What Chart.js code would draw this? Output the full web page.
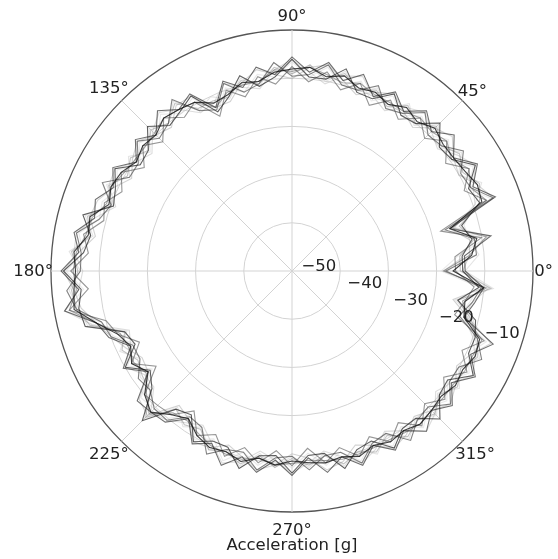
<!DOCTYPE html>
<html>
<head>
<meta charset="utf-8">
<script src="https://cdn.jsdelivr.net/npm/chart.js@4.4.1/dist/chart.umd.min.js"></script>
<style>
  html, body { margin: 0; padding: 0; background: #fff; }
  #wrap { width: 558px; height: 559px; }
</style>
</head>
<body>
<div id="wrap"><canvas id="polarChart" width="558" height="559"></canvas></div>
<script>
// angles run counter-clockwise from 0° in 5° steps (0, 5, ... 355)
const angleStep = 5;
const angleTickLabels = ['0°', '45°', '90°', '135°', '180°', '225°', '270°', '315°'];
const radialTicks = [-50, -40, -30, -20, -10];
const radialTickLabels = ['\u221250', '\u221240', '\u221230', '\u221220', '\u221210'];

// one row = 60° (12 samples)
const runA = [
  -16.5, -16.5, -10.5, -18.5, -7.5, -11, -8, -11.5, -8.5, -11.5, -9, -12,
  -9.5, -12.5, -9, -11.5, -8.5, -11, -8, -11.5, -9.5, -13, -10.5, -15,
  -10, -11.5, -9, -12.5, -10, -13, -9.5, -11.5, -9, -10, -6.5, -8,
  -4.5, -8, -4.5, -10.5, -12, -15.5, -12, -16, -10.5, -11, -11.5, -15,
  -11, -13, -9.5, -12.5, -10, -13, -10, -13.5, -10, -12.5, -9.5, -12.5,
  -9.5, -12, -9, -11.5, -9, -12, -8.5, -11.5, -8, -15.5, -14, -12.5
];
const runB = [
  -18.5, -18.5, -12.5, -20.5, -9.5, -13, -10, -13.5, -10.5, -13.5, -11, -14,
  -11.5, -14.5, -11, -13.5, -10.5, -13, -10, -13.5, -11.5, -15, -12.5, -17,
  -12, -13.5, -11, -14.5, -12, -15, -11.5, -13.5, -11, -12, -8.5, -10,
  -6.5, -10, -5.5, -12.5, -14, -17.5, -14, -18, -12.5, -13, -13.5, -17,
  -13, -15, -11.5, -14.5, -12, -15, -12, -15.5, -12, -14.5, -11.5, -14.5,
  -11.5, -14, -10.5, -13.5, -11, -14, -10.5, -13.5, -10, -17.5, -16, -14.5
];
const runC = [
  -17, -17, -14.5, -16, -11, -12, -8.5, -12, -12.5, -9, -12.5, -13,
  -10, -13, -13, -9, -12, -12, -8.5, -12, -13.5, -10.5, -14, -16,
  -10.5, -12, -13, -10, -13.5, -14, -10, -12, -13, -7.5, -10, -9,
  -5, -8.5, -7.5, -8, -15.5, -16.5, -12.5, -16.5, -14.5, -8.5, -15, -16,
  -11.5, -13.5, -13.5, -10, -13.5, -14, -10.5, -14, -14, -10, -13, -13.5,
  -10, -12.5, -12.5, -9, -12.5, -13, -9, -12, -12, -13, -17.5, -13.5
];
const runD = [
  -20.5, -14, -14, -19.5, -8, -11.5, -12, -9, -12, -12.5, -9.5, -12.5,
  -13.5, -10, -12.5, -12.5, -9, -11.5, -12, -9, -13, -14, -11, -15.5,
  -14, -9, -12.5, -13.5, -10.5, -13.5, -13.5, -9, -12.5, -11, -7, -8.5,
  -8.5, -5.5, -7, -11.5, -12.5, -16, -16, -13.5, -14, -12, -12, -15.5,
  -15, -10.5, -13, -13.5, -10.5, -13.5, -14, -11, -13.5, -13.5, -10, -13,
  -13.5, -9.5, -12, -12.5, -9.5, -12.5, -12.5, -9, -11.5, -16.5, -14.5, -13
];
const runE = [
  -19, -15, -13.5, -18.5, -10.5, -10, -11, -11.5, -11.5, -10.5, -12, -11,
  -12.5, -11.5, -12, -10.5, -11.5, -10, -10.5, -11, -12.5, -12, -13.5, -14,
  -12, -11.5, -11, -12.5, -12, -13, -11.5, -11, -12, -9, -9.5, -7,
  -7.5, -7, -6.5, -10.5, -14, -15.5, -14, -16, -12.5, -11, -13.5, -15,
  -13, -12, -12.5, -11.5, -13, -12, -13, -12.5, -12, -12.5, -11.5, -12.5,
  -11.5, -12, -11, -11.5, -12, -11, -11.5, -10.5, -11, -15.5, -16, -12.5
];
const runF = [
  -21, -15.5, -11.5, -18, -9.5, -11.5, -10, -12, -10.5, -11.5, -11, -12,
  -12, -12, -11, -12, -11, -10, -11, -10.5, -12.5, -12.5, -13, -15,
  -12, -11.5, -11, -12, -12.5, -12.5, -12, -11, -11.5, -9.5, -9, -7.5,
  -7, -7.5, -5.5, -10.5, -14.5, -15, -14.5, -15.5, -13, -10.5, -14, -14.5,
  -13.5, -12.5, -12, -12, -13, -12, -12.5, -13, -12.5, -12, -12, -12,
  -12, -11.5, -11, -11.5, -11.5, -11.5, -11, -11, -10.5, -15, -16.5, -12
];
const runG = [
  -17, -15.5, -15, -18.5, -8, -10, -12.5, -11.5, -9, -10.5, -13.5, -12,
  -10, -11.5, -13.5, -11.5, -9, -10, -12.5, -11.5, -10, -12, -15, -15,
  -10.5, -10.5, -13.5, -12.5, -10.5, -12, -14, -11.5, -9.5, -9, -11, -8,
  -5, -7, -8, -10.5, -12.5, -14.5, -16.5, -16, -11, -10, -16, -15,
  -11.5, -12, -14, -12.5, -10.5, -12, -14.5, -13.5, -10.5, -11.5, -14, -12.5,
  -10, -11, -13, -11.5, -9.5, -11, -13, -11.5, -8.5, -14.5, -18.5, -12.5
];
const runH = [
  -21, -16.5, -11, -17.5, -12, -11, -8.5, -10.5, -13, -11.5, -9.5, -11,
  -14, -12.5, -9.5, -10.5, -13, -11, -8.5, -10.5, -14, -13, -11, -14,
  -14.5, -11.5, -9.5, -11.5, -14.5, -13, -10, -10.5, -13.5, -10, -7, -7,
  -9, -8, -4.5, -9.5, -16.5, -15.5, -12.5, -15, -15, -11, -12, -14,
  -15.5, -13, -10, -11.5, -14.5, -13, -10.5, -12.5, -14.5, -12.5, -10, -11.5,
  -14, -12, -9, -10.5, -13.5, -12, -9, -10.5, -12.5, -15.5, -14.5, -11.5
];
const runI = [
  -17.5, -17.5, -14, -16.5, -11, -9.5, -11.5, -10, -12, -10, -12.5, -10.5,
  -13, -11, -12.5, -10, -12, -9.5, -11.5, -10, -13, -11.5, -14, -13.5,
  -13.5, -10, -12.5, -11, -13.5, -11.5, -13, -10.5, -12.5, -8.5, -10, -6.5,
  -8, -6.5, -7, -9, -15.5, -13.5, -15.5, -14.5, -14, -9.5, -15, -13.5,
  -14.5, -11.5, -12.5, -11, -13.5, -11.5, -13.5, -12, -13.5, -11, -12.5, -11,
  -13, -10.5, -12, -10.5, -12.5, -10.5, -12, -10, -11.5, -14, -17.5, -11
];
const runJ = [
  -16.5, -13.5, -15, -15.5, -12, -9, -12.5, -9.5, -12.5, -9.5, -13, -10,
  -13.5, -10.5, -13, -9.5, -12.5, -9.5, -11.5, -9, -13.5, -11, -14.5, -12.5,
  -14, -9.5, -12.5, -10.5, -14, -11, -13.5, -10, -13, -8, -10.5, -6,
  -8.5, -6, -7.5, -8.5, -16, -13, -16, -14, -14.5, -9, -15.5, -13,
  -15, -11.5, -13, -10.5, -14, -11.5, -14, -11.5, -14, -10.5, -13, -10.5,
  -13.5, -10, -12.5, -10, -13, -10, -12.5, -9.5, -12, -13.5, -18, -10.5
];
const runK = [
  -21.5, -18, -11, -20, -8.5, -12, -9, -12.5, -10, -12.5, -10.5, -13,
  -10.5, -13.5, -10.5, -12.5, -9.5, -12, -9, -12, -11, -14, -12, -16,
  -11, -12.5, -10, -13, -11, -14, -10.5, -12.5, -10.5, -11, -7.5, -9,
  -5.5, -9, -4.5, -11.5, -13, -16.5, -13, -17, -11.5, -12, -12.5, -16,
  -12, -14, -10.5, -13.5, -11.5, -14, -11.5, -14.5, -11.5, -13.5, -10.5, -13.5,
  -10.5, -13, -10, -12.5, -10.5, -13, -10, -12, -9.5, -16.5, -15, -13.5
];

// darkest first: Chart.js paints dataset 0 on top
const runs = [runE, runC, runA, runD, runB, runF, runI, runG, runH, runJ, runK];
const runColors = [
  'rgba(15,15,15,0.8)', 'rgba(35,35,35,0.72)', 'rgba(50,50,50,0.7)', 'rgba(65,65,65,0.65)',
  'rgba(85,85,85,0.62)', 'rgba(105,105,105,0.6)', 'rgba(135,135,135,0.5)',
  'rgba(165,165,165,0.5)', 'rgba(185,185,185,0.5)', 'rgba(205,205,205,0.55)', 'rgba(220,220,220,0.6)'
];

// radar goes clockwise from startAngle, so walk the ccw samples backwards
const n = 360 / angleStep;
const order = [];
for (let i = 0; i < n; i++) order.push((n - i) % n);

const labels = order.map(k => {
  const deg = k * angleStep;
  return deg % 45 === 0 ? angleTickLabels[deg / 45] : '';
});

const rMin = -52.5, rMax = -2.4;
const textFont = '16.5px "DejaVu Sans"';

// matplotlib-style labels: theta labels centred just outside the rim, r labels along a ray
const polarText = {
  id: 'polarText',
  afterDatasetsDraw(chart) {
    const s = chart.scales.r;
    const ctx = chart.ctx;
    ctx.save();
    ctx.font = textFont;
    ctx.fillStyle = '#222';
    ctx.textBaseline = 'middle';
    ctx.textAlign = 'center';
    labels.forEach((lab, i) => {
      if (!lab) return;
      const hw = ctx.measureText(lab).width / 2;
      const p = s.getPointPosition(i, s.drawingArea + 4 + 0.7 * hw);
      ctx.fillText(lab, p.x, p.y + 1);
    });
    ctx.textAlign = 'left';
    radialTicks.forEach((v, i) => {
      const d = s.getDistanceFromCenterForValue(v);
      ctx.fillText(radialTickLabels[i], s.xCenter + d * 0.953 - 2, s.yCenter + d * 0.347 - 8);
    });
    ctx.restore();
  }
};

Chart.defaults.font.family = '"DejaVu Sans", sans-serif';

new Chart(document.getElementById('polarChart'), {
  type: 'radar',
  data: {
    labels: labels,
    datasets: runs.map((r, i) => ({
      data: order.map(k => r[k]),
      borderColor: runColors[i],
      borderWidth: 1.1,
      pointRadius: 0,
      fill: false,
      tension: 0
    }))
  },
  options: {
    responsive: false,
    animation: false,
    layout: { padding: { left: 51, right: 25, top: 29, bottom: 0 } },
    plugins: {
      legend: { display: false },
      tooltip: { enabled: false },
      title: {
        display: true,
        position: 'bottom',
        text: 'Acceleration [g]',
        color: '#222',
        font: { size: 16.5, weight: 'normal', lineHeight: 1.2 },
        padding: { top: 23, bottom: 3 }
      }
    },
    scales: {
      r: {
        min: rMin,
        max: rMax,
        startAngle: 90,
        ticks: { display: false, stepSize: 10 },
        grid: {
          circular: true,
          color: c => (c.tick && c.tick.value === rMax) ? '#555' : '#d3d3d3',
          lineWidth: c => (c.tick && c.tick.value === rMax) ? 1.3 : 1
        },
        angleLines: {
          color: c => (c.index % 9 === 0) ? '#d3d3d3' : 'rgba(0,0,0,0)',
          lineWidth: 1
        },
        pointLabels: { display: false }
      }
    }
  },
  plugins: [polarText]
});
</script>
</body>
</html>
